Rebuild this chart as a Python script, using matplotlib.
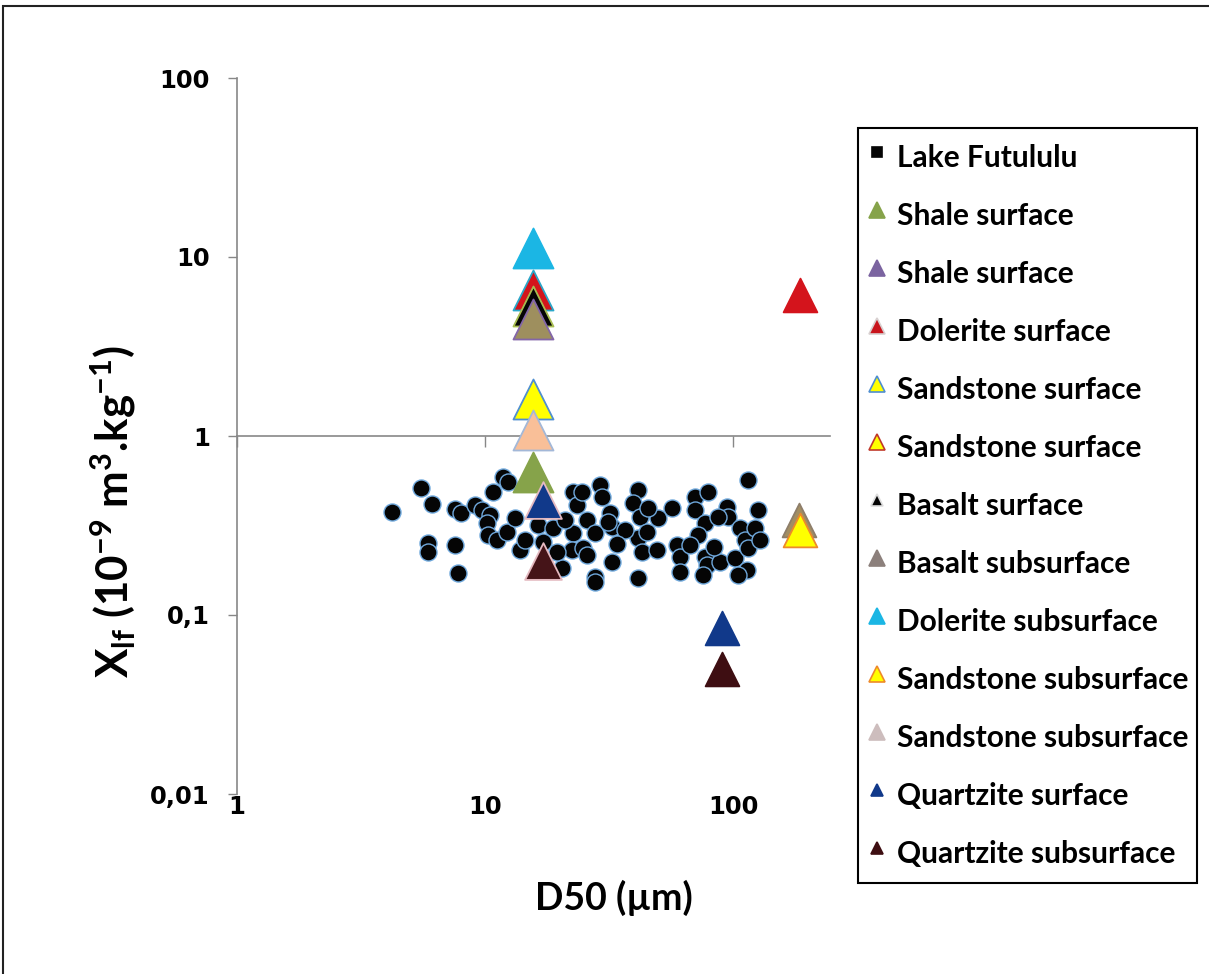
import matplotlib
matplotlib.use("Agg")
import matplotlib.pyplot as plt
from matplotlib.lines import Line2D
from matplotlib.patches import Rectangle
import matplotlib.transforms as mtransforms

# ---------------- data ----------------
lake_x = [4.2, 5.5, 6.1, 5.9, 5.9, 7.6, 8.0, 7.6, 7.8, 9.1, 9.7, 10.5, 10.8, 11.8, 12.4,
          10.2, 10.3, 11.2, 12.3, 13.2, 13.8, 16.4, 18.8, 17.1, 20.4, 22.6, 23.5, 24.6,
          25.8, 27.8, 22.6, 22.4, 24.8, 25.8, 29.1, 29.6, 31.9, 32.5, 31.3, 32.5, 27.8,
          27.8, 41.4, 39.5, 42.2, 41.4, 43.0, 41.4, 56.8, 49.9, 49.4, 59.4, 61.1, 61.1,
          70.3, 79.3, 70.3, 77.1, 72.3, 94.6, 95.5, 87.1, 77.1, 78.6, 75.7, 88.7, 101.9,
          106.7, 111.7, 114.8, 113.8, 104.7, 114.8, 126.2, 122.7, 45.4, 45.0,
          14.5, 21.0, 36.7, 67.1, 128.5, 19.5, 34.0, 84.0]
lake_y = [0.376, 0.512, 0.416, 0.252, 0.225, 0.39, 0.372, 0.246, 0.172, 0.412, 0.386,
          0.362, 0.487, 0.593, 0.553, 0.327, 0.28, 0.262, 0.29, 0.348, 0.231, 0.318,
          0.306, 0.256, 0.183, 0.487, 0.412, 0.487, 0.34, 0.287, 0.287, 0.231, 0.237,
          0.216, 0.532, 0.456, 0.372, 0.31, 0.331, 0.198, 0.163, 0.153, 0.499, 0.422,
          0.353, 0.269, 0.225, 0.161, 0.396, 0.348, 0.231, 0.246, 0.211, 0.174, 0.456,
          0.487, 0.386, 0.327, 0.28, 0.401, 0.353, 0.353, 0.211, 0.19, 0.167, 0.198,
          0.208, 0.306, 0.262, 0.237, 0.178, 0.167, 0.568, 0.386, 0.306, 0.396, 0.29,
          0.262, 0.34, 0.30, 0.246, 0.262, 0.225, 0.25, 0.24]

shale_green_x, shale_green_y = [15.6], [0.63]
shale_purple_x, shale_purple_y = [15.6], [4.5]
dolerite_surf_x, dolerite_surf_y = [15.6, 186], [6.5, 6.1]
sandstone_surf_x, sandstone_surf_y = [15.6], [1.6]
sandstone_surf2_x, sandstone_surf2_y = [], []
basalt_surf_x, basalt_surf_y = [15.6], [5.3]
basalt_sub_x, basalt_sub_y = [185], [0.34]
dolerite_sub_x, dolerite_sub_y = [15.6], [11.2]
sandstone_sub_x, sandstone_sub_y = [187], [0.30]
sandstone_sub2_x, sandstone_sub2_y = [15.6], [1.08]
quartz_surf_x, quartz_surf_y = [17.1, 90], [0.44, 0.085]
quartz_sub_x, quartz_sub_y = [17.1, 90], [0.20, 0.05]

legend_labels = ["Lake Futululu", "Shale surface", "Shale surface", "Dolerite surface",
                 "Sandstone surface", "Sandstone surface", "Basalt surface",
                 "Basalt subsurface", "Dolerite subsurface", "Sandstone subsurface",
                 "Sandstone subsurface", "Quartzite surface", "Quartzite subsurface"]
x_ticks = [1, 10, 100]
x_tick_labels = ["1", "10", "100"]
y_ticks = [0.01, 0.1, 1, 10, 100]
y_tick_labels = ["0,01", "0,1", "1", "10", "100"]

# ---------------- figure ----------------
plt.rcParams['mathtext.fontset'] = 'custom'
plt.rcParams['mathtext.rm'] = 'Lato:bold'
plt.rcParams['mathtext.it'] = 'Lato:bold'
plt.rcParams['mathtext.bf'] = 'Lato:bold'
plt.rcParams['mathtext.default'] = 'rm'

label_font = {'family': 'Lato', 'weight': 'bold'}

fig = plt.figure(figsize=(12.09, 9.74), dpi=100)
ax = fig.add_axes([237/1209, 180/974, 593/1209, 716/974])
ax.set_xscale('log')
ax.set_yscale('log')
ax.set_xlim(1, 10 ** (593/248))
ax.set_ylim(0.01, 100)

axis_col = '#878787'
for s in ['top', 'right']:
    ax.spines[s].set_visible(False)
ax.spines['left'].set_color(axis_col)
ax.spines['left'].set_linewidth(1.2)
ax.spines['bottom'].set_color(axis_col)
ax.spines['bottom'].set_linewidth(1.2)
ax.spines['bottom'].set_position(('data', 1))

ax.set_yticks(y_ticks)
ax.set_yticklabels(y_tick_labels)
ax.yaxis.set_minor_locator(matplotlib.ticker.NullLocator())
ax.tick_params(axis='y', direction='out', length=6.5, width=1, color=axis_col, pad=13,
               labelsize=17.5)
for t in ax.get_yticklabels():
    t.set_fontweight('bold')
    t.set_family('DejaVu Sans')

ax.set_xticks(x_ticks)
ax.xaxis.set_minor_locator(matplotlib.ticker.NullLocator())
ax.tick_params(axis='x', direction='out', length=8, width=1, color=axis_col,
               labelbottom=False)
trans = mtransforms.blended_transform_factory(ax.transData, ax.transAxes)
for xv, lab in zip(x_ticks, x_tick_labels):
    ax.text(xv, -0.018, lab, transform=trans, ha='center', va='center',
            fontsize=17.5, fontweight='bold', family='DejaVu Sans')

# ---------------- data marks ----------------
S_big = 830
S_mid = 700
S_small = 590

ax.scatter(lake_x, lake_y, s=150, marker='o', facecolor='#050505', edgecolor='#6FA8DC',
           linewidths=1.0, zorder=3, clip_on=False)

def tri(xs, ys, fc, ec, s, z, lw=1.3):
    ax.scatter(xs, ys, s=s, marker='^', facecolor=fc, edgecolor=ec, linewidths=lw,
               zorder=z, clip_on=False)

tri(dolerite_sub_x, dolerite_sub_y, '#1BB6E4', '#1BB6E4', S_big, 4)
tri(dolerite_surf_x[:1], dolerite_surf_y[:1], '#D4141C', '#2AA7C9', S_big, 5)
tri(dolerite_surf_x[1:], dolerite_surf_y[1:], '#D4141C', '#D4141C', S_small, 5)
tri(basalt_surf_x, basalt_surf_y, '#050505', '#A7BC50', S_big, 6)
tri(shale_purple_x, shale_purple_y, '#9E8F5E', '#8366A8', S_big, 7)
tri(sandstone_surf_x, sandstone_surf_y, '#FFFF00', '#4F8ED0', S_big, 5)
tri(sandstone_sub2_x, sandstone_sub2_y, '#F9BF98', '#A3B8D8', S_big, 6)
tri(shale_green_x, shale_green_y, '#86A34A', '#86A34A', S_big, 5)
tri(quartz_surf_x[:1], quartz_surf_y[:1], '#11398A', '#E4B9C0', S_mid, 6)
tri(quartz_sub_x[:1], quartz_sub_y[:1], '#451418', '#E4B9C0', S_mid, 6)
tri(quartz_surf_x[1:], quartz_surf_y[1:], '#11398A', '#11398A', S_small, 6)
tri(quartz_sub_x[1:], quartz_sub_y[1:], '#3E0E12', '#3E0E12', S_small, 6)
tri(basalt_sub_x, basalt_sub_y, '#A38E62', '#8E7E6A', S_small, 4)
tri(sandstone_sub_x, sandstone_sub_y, '#FFFF00', '#EE8A2A', S_small, 5)

# ---------------- labels ----------------
fig.text(614/1209, 1 - 898/974, "D50 (µm)", ha='center', va='center',
         fontsize=27, **label_font)
fig.text(113/1209, 1 - 512/974,
         r"X$_{\mathregular{lf}}$ (10$^{\mathregular{-9}}$ m$^{\mathregular{3}}$.kg$^{\mathregular{-1}}$)",
         ha='center', va='center', rotation=90, fontsize=31.5, **label_font)

# ---------------- legend ----------------
def h(marker, fc, ec, ms=11):
    return Line2D([], [], linestyle='none', marker=marker, markersize=ms,
                  markerfacecolor=fc, markeredgecolor=ec, markeredgewidth=1.2)

handles = [
    h('s', '#050505', '#050505', 7.5),
    h('^', '#86A34A', '#86A34A'),
    h('^', '#7B64A0', '#7B64A0'),
    h('^', '#C8141C', '#D8D0D0'),
    h('^', '#FFFF00', '#4F8ED0'),
    h('^', '#FFFF00', '#C0392B'),
    h('^', '#050505', '#DDDDDD', 9),
    h('^', '#8C807C', '#8C807C'),
    h('^', '#1BB6E4', '#1BB6E4'),
    h('^', '#FFFF00', '#EE8A2A'),
    h('^', '#CDBDBD', '#CDBDBD'),
    h('^', '#11398A', '#11398A', 9),
    h('^', '#3E0E12', '#3E0E12', 9),
]
leg = fig.legend(handles, legend_labels, loc='upper left',
                 bbox_to_anchor=(858/1209, 1 - 128/974), bbox_transform=fig.transFigure,
                 borderaxespad=0, frameon=True, fancybox=False, framealpha=1,
                 edgecolor='#000000', prop={'family': 'Lato', 'weight': 'bold', 'size': 21.5},
                 handlelength=0.7, handleheight=1.75, handletextpad=0.3, borderpad=0.3,
                 labelspacing=0.56)
leg.get_frame().set_linewidth(1.5)

# figure border
fig.patches.append(Rectangle((3/1209, -0.01), 1.01, 1 - 6/974 + 0.01, transform=fig.transFigure,
                             fill=False, edgecolor='#222222', linewidth=1.5))

fig.savefig("out.png", dpi=100)
